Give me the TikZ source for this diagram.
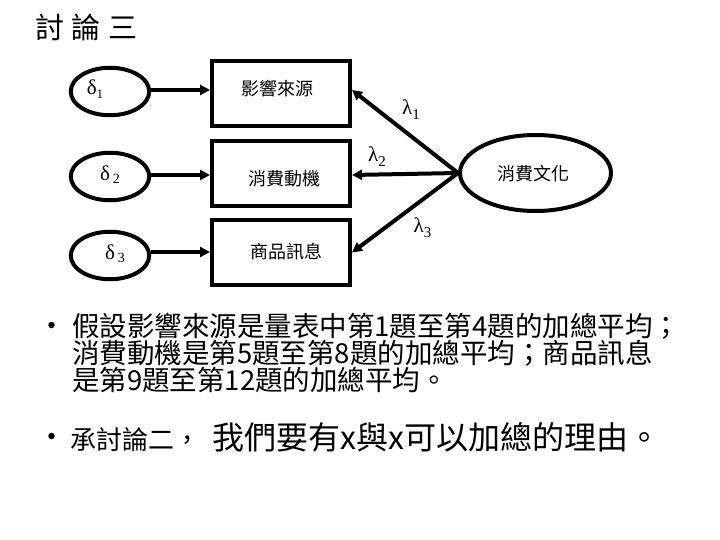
\documentclass[tikz,border=0pt]{standalone}
\usepackage{fontspec}
\setmainfont{Noto Sans CJK TC}
\newfontfamily\grk{Liberation Serif}
\usetikzlibrary{arrows.meta,shapes.geometric}
\begin{document}
\begin{tikzpicture}[x=1pt,y=-1pt,
  thick3/.style={line width=4pt},
  errell/.style={ellipse,draw,thick3,minimum width=78.5pt,minimum height=47.5pt,inner sep=0pt},
  obsbox/.style={rectangle,draw,thick3,minimum width=138pt,minimum height=65pt,inner sep=0pt},
  latell/.style={ellipse,draw,thick3,minimum width=151pt,minimum height=76pt,inner sep=0pt},
  arr/.style={thick3,-{Triangle[length=10pt,width=10pt]}},
  boxtxt/.style={inner sep=0pt,font=\fontsize{18}{18}\selectfont},
  grklbl/.style={inner sep=0pt,font=\grk\fontsize{21}{21}\selectfont},
  bodytxt/.style={inner sep=0pt,anchor=base west,font=\fontsize{27.5}{27.5}\selectfont},
  bulletdot/.style={circle,fill=black,inner sep=0pt,minimum size=6.5pt}
]
\useasboundingbox (0,0) rectangle (720,540);

% title
\node[inner sep=0pt,font=\fontsize{29}{29}\selectfont] (title) at (86.5,27) {討\hspace{7.5pt}論\hspace{7.5pt}三};

% error ellipses
\node[errell] (D1) at (110,91.5) {};
\node[errell] (D2) at (110,176.5) {};
\node[errell] (D3) at (110,255.5) {};
\node[grklbl] (d1) at (95,89) {δ\raisebox{-4pt}{\fontsize{13}{13}\selectfont 1}};
\node[grklbl] (d2) at (110,175) {δ\hspace{3pt}\raisebox{-3pt}{\fontsize{14}{14}\selectfont 2}};
\node[grklbl] (d3) at (115,254) {δ\hspace{3pt}\raisebox{-3pt}{\fontsize{14}{14}\selectfont 3}};

% observed boxes
\node[obsbox] (B1) at (281,93.5) {};
\node[obsbox] (B2) at (281,173.5) {};
\node[obsbox] (B3) at (281,252.5) {};
\node[boxtxt] (t1) at (277.5,89) {影響來源};
\node[boxtxt] (t2) at (284,179) {消費動機};
\node[boxtxt] (t3) at (286,251.5) {商品訊息};

% latent
\node[latell] (F) at (535.5,173) {};
\node[boxtxt] (tf) at (533.5,173.5) {消費文化};

% arrows error -> boxes
\draw[arr] ([yshift=1.5pt]D1.east) -- ([yshift=1.5pt]D1.east -| B1.west);
\draw[arr] ([yshift=1.5pt]D2.east) -- ([yshift=1.5pt]D2.east -| B2.west);
\draw[arr] ([yshift=3.5pt]D3.east) -- ([yshift=3.5pt]D3.east -| B3.west);

% arrows latent -> boxes
\draw[arr] (F.west) -- ([yshift=3.5pt]B1.east);
\draw[arr] (F.west) -- ([yshift=-1.5pt]B2.east);
\draw[arr] (F.west) -- (B3.east);

% lambda labels
\node[grklbl] (l1) at (411,110) {λ\raisebox{-5pt}{\fontsize{15}{15}\selectfont 1}};
\node[grklbl] (l2) at (377,157) {λ\raisebox{-5pt}{\fontsize{15}{15}\selectfont 2}};
\node[grklbl] (l3) at (422.5,227.5) {λ\raisebox{-5pt}{\fontsize{15}{15}\selectfont 3}};

% bullets and text
\node[bulletdot] (b1) at (51.5,325) {};
\node[bodytxt] (L1) at (72,336.5) {假設影響來源是量表中第1題至第4題的加總平均；};
\node[bodytxt] (L2) at (72,363.5) {消費動機是第5題至第8題的加總平均；商品訊息};
\node[bodytxt] (L3) at (72,390) {是第9題至第12題的加總平均。};
\node[bulletdot] (b2) at (51.5,436) {};
\node[bodytxt] (L4) at (70,449.5) {{\fontsize{26}{26}\selectfont 承討論二，}\hspace{12pt}{\fontsize{32}{32}\selectfont 我們要有x與x可以加總的理由。}};
\end{tikzpicture}
\end{document}
